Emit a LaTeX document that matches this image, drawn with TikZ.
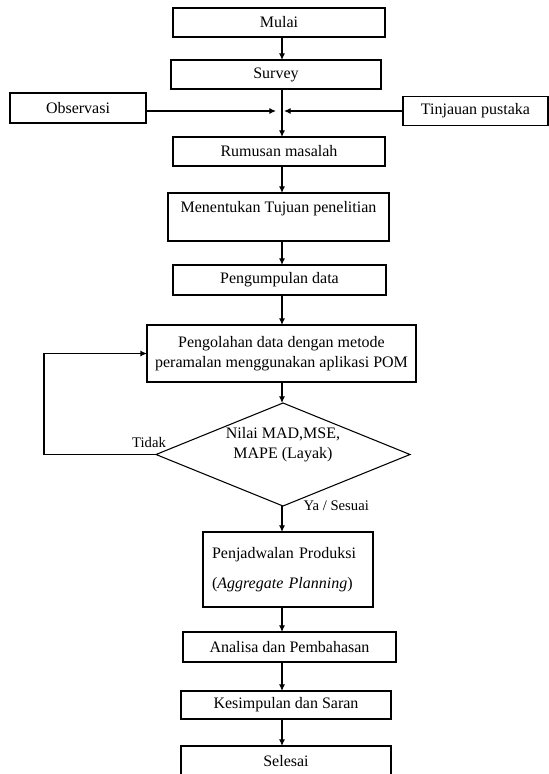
\documentclass[tikz,border=0pt]{standalone}
\usepackage{fontspec}
\setmainfont{Liberation Serif}
\usetikzlibrary{shapes.geometric, arrows.meta, positioning}

\begin{document}
\begin{tikzpicture}[
    base/.style={draw, line width=0.8pt, align=center, inner sep=3pt, outer sep=0pt,
                 font=\fontsize{12}{15}\selectfont},
    block/.style={base, rectangle, minimum width=159pt, minimum height=21.75pt},
    sidebox/.style={base, rectangle, minimum height=22.5pt},
    decision/.style={base, diamond, aspect=2.47, inner sep=0pt,
                     minimum width=190.5pt, minimum height=77.25pt},
    arrow/.style={-{Latex[length=5pt, width=4.5pt]}, line width=0.8pt},
    lbl/.style={font=\fontsize{11}{13}\selectfont, inner sep=1pt}
]
    \useasboundingbox (0,0) rectangle (411.75pt,-580.5pt);

    % Nodes
    \node [block] (mulai) at (209.25pt,-16.875pt) {Mulai};
    \node [block, minimum width=157.5pt] (survey) [below=17.25pt of mulai, xshift=-2.25pt] {Survey};
    \node [block] (rumusan) [below=36pt of survey, xshift=2.25pt] {Rumusan masalah};
    \node [block, minimum width=165.75pt, minimum height=36pt] (tujuan) [below=20.25pt of rumusan, xshift=-0.375pt] {Menentukan Tujuan penelitian\\ \mbox{}};
    \node [block, minimum width=159.75pt, minimum height=22.5pt] (kumpul) [below=18pt of tujuan, xshift=0.75pt] {Pengumpulan data};
    \node [block, minimum width=201.75pt, minimum height=42.75pt] (olah) [below=22.5pt of kumpul, xshift=1.5pt] {Pengolahan data dengan metode\\peramalan menggunakan aplikasi POM};
    \node [decision] (nilai) [below=15.75pt of olah, xshift=1.125pt] {Nilai MAD,MSE,\\MAPE (Layak)\\[3pt]\mbox{}};
    \node [block, minimum width=127.5pt, minimum height=56.25pt, text width=114pt, align=left, inner xsep=6.75pt] (jadwal) [below=19.5pt of nilai, xshift=3.75pt] {Penjadwalan Produksi\\[7pt](\textit{Aggregate Planning})};
    \node [block, minimum width=159.75pt, minimum height=22.5pt] (analisa) [below=18.75pt of jadwal, xshift=1.125pt] {Analisa dan Pembahasan};
    \node [block, minimum width=157.5pt, minimum height=21pt] (simpul) [below=21.75pt of analisa, xshift=-2.625pt] {Kesimpulan dan Saran};
    \node [block, minimum width=157.5pt, minimum height=22.5pt] (selesai) [below=20.25pt of simpul] {Selesai};

    % Spine and side inputs
    \coordinate (spine) at (211.5pt,0);
    \path (survey.south -| spine) ++(0,-16.5pt) coordinate (merge);
    \node [sidebox, minimum width=102pt] (obs) [left=102pt of merge, yshift=2.25pt] {Observasi};
    \node [sidebox, minimum width=108.75pt, minimum height=21.75pt] (tinjau) [right=90.75pt of merge] {Tinjauan pustaka};

    % Path connections
    \draw [arrow] (mulai.south -| spine) -- (survey.north -| spine);
    \draw [arrow] (survey.south -| spine) -- (rumusan.north -| spine);
    \draw [arrow] (obs.east |- merge) -- ([xshift=-4.5pt]merge);
    \draw [arrow] (tinjau.west |- merge) -- ([xshift=1.5pt]merge);
    \draw [arrow] (rumusan.south -| spine) -- (tujuan.north -| spine);
    \draw [arrow] (tujuan.south -| spine) -- (kumpul.north -| spine);
    \draw [arrow] (kumpul.south -| spine) -- (olah.north -| spine);
    \draw [arrow] (olah.south -| spine) -- (nilai.north -| spine);

    % Decision edges
    \draw [arrow] (nilai.west) node [lbl, above=4pt, xshift=-5.25pt] {Tidak} -- ++(-84pt,0) |- (olah.west);
    \draw [arrow] (nilai.south -| spine) node [lbl, anchor=west, xshift=14.75pt] {Ya / Sesuai} -- (jadwal.north -| spine);

    % Final steps
    \draw [arrow] (jadwal.south -| spine) -- (analisa.north -| spine);
    \draw [arrow] (analisa.south -| spine) -- (simpul.north -| spine);
    \draw [arrow] (simpul.south -| spine) -- (selesai.north -| spine);

\end{tikzpicture}
\end{document}
